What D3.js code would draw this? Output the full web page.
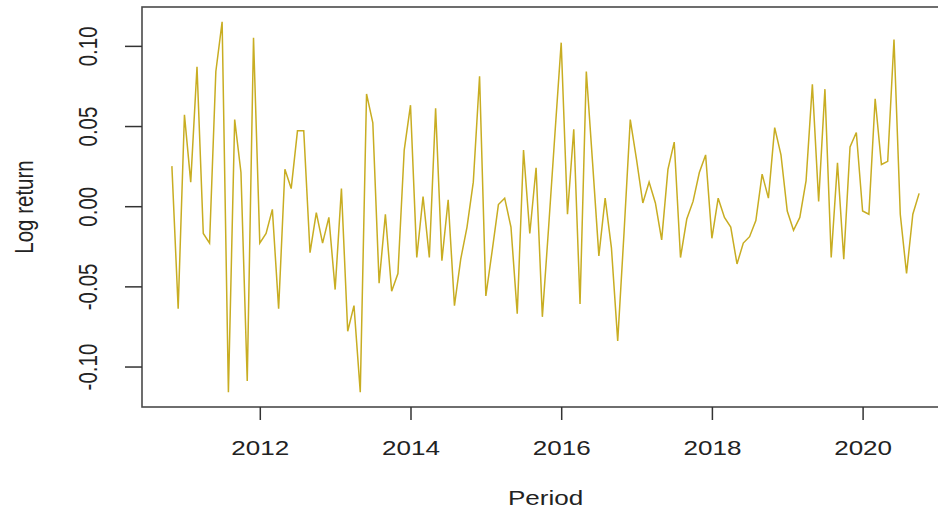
<!DOCTYPE html>
<html>
<head>
<meta charset="utf-8">
<script src="https://cdn.jsdelivr.net/npm/d3@7"></script>
<style>
  html, body { margin: 0; padding: 0; background: #fff; }
  svg { display: block; }
  text { font-family: "Liberation Sans", Arial, Helvetica, sans-serif; fill: #222; }
</style>
</head>
<body>
<svg id="chart" width="938" height="513"></svg>
<script>
// Monthly log returns, starting November 2010
const startYear = 2010;
const startMonth = 11;
const logReturns = [
  0.025, -0.064, 0.057, 0.015, 0.087, -0.017, -0.023, 0.084, 0.115, -0.116,
  0.054, 0.021, -0.109, 0.105, -0.023, -0.017, -0.002, -0.064, 0.023, 0.011,
  0.047, 0.047, -0.029, -0.004, -0.023, -0.007, -0.052, 0.011, -0.078, -0.062,
  -0.116, 0.070, 0.052, -0.048, -0.005, -0.053, -0.042, 0.035, 0.063, -0.032,
  0.006, -0.032, 0.061, -0.034, 0.004, -0.062, -0.033, -0.013, 0.015, 0.081,
  -0.056, -0.028, 0.001, 0.005, -0.013, -0.067, 0.035, -0.017, 0.024, -0.069,
  -0.013, 0.045, 0.102, -0.005, 0.048, -0.061, 0.084, 0.027, -0.031, 0.005,
  -0.026, -0.084, -0.017, 0.054, 0.029, 0.002, 0.015, 0.002, -0.021, 0.023,
  0.040, -0.032, -0.008, 0.003, 0.021, 0.032, -0.020, 0.005, -0.007, -0.013,
  -0.036, -0.023, -0.019, -0.009, 0.020, 0.005, 0.049, 0.032, -0.003, -0.015,
  -0.007, 0.016, 0.076, 0.003, 0.073, -0.032, 0.027, -0.033, 0.037, 0.046,
  -0.003, -0.005, 0.067, 0.026, 0.028, 0.104, -0.005, -0.042, -0.005, 0.008
];
const xTickValues = [2012, 2014, 2016, 2018, 2020];
const yTickValues = [-0.10, -0.05, 0.00, 0.05, 0.10];
const xTitle = "Period";
const yTitle = "Log return";

// Time in decimal years for each observation
const t0 = startYear + (startMonth - 1) / 12;
const series = logReturns.map((v, i) => ({ t: t0 + i / 12, v }));

// Plot region (base-graphics style: 4% padding on both axes)
const plot = { left: 142, right: 949, top: 7, bottom: 407 };
const tExt = d3.extent(series, d => d.t);
const vExt = d3.extent(series, d => d.v);
const tPad = (tExt[1] - tExt[0]) * 0.04;
const vPad = (vExt[1] - vExt[0]) * 0.04;

const x = d3.scaleLinear().domain([tExt[0] - tPad, tExt[1] + tPad]).range([plot.left, plot.right]);
const y = d3.scaleLinear().domain([vExt[0] - vPad, vExt[1] + vPad]).range([plot.bottom, plot.top]);

const svg = d3.select("#chart");
const fontSize = 20.5;
const stretch = 1.27;

// Series line
svg.append("path")
  .datum(series)
  .attr("fill", "none")
  .attr("stroke", "#C8AD22")
  .attr("stroke-width", 1.5)
  .attr("stroke-linejoin", "miter")
  .attr("d", d3.line().x(d => x(d.t)).y(d => y(d.v)));

// Frame
svg.append("rect")
  .attr("x", plot.left).attr("y", plot.top)
  .attr("width", plot.right - plot.left).attr("height", plot.bottom - plot.top)
  .attr("fill", "none").attr("stroke", "#4a4a4a").attr("stroke-width", 1.6);

// Bottom axis
const gx = svg.append("g").attr("transform", `translate(0,${plot.bottom})`)
  .call(d3.axisBottom(x).tickValues(xTickValues).tickFormat(d3.format("d")).tickSize(13).tickSizeOuter(0));
gx.select(".domain").remove();
gx.selectAll(".tick line").attr("stroke", "#333").attr("stroke-width", 1.5);
gx.selectAll(".tick text")
  .attr("y", 0).attr("dy", null)
  .attr("transform", `translate(0,48) scale(${stretch},1)`)
  .attr("font-size", fontSize)
  .attr("font-family", "Liberation Sans, Arial, sans-serif")
  .attr("fill", "#222")
  .attr("text-anchor", "middle");

// Left axis
const gy = svg.append("g").attr("transform", `translate(${plot.left},0)`)
  .call(d3.axisLeft(y).tickValues(yTickValues).tickFormat(d => d.toFixed(2)).tickSize(17).tickSizeOuter(0));
gy.select(".domain").remove();
gy.selectAll(".tick line").attr("stroke", "#333").attr("stroke-width", 1.5);
gy.selectAll(".tick text")
  .attr("x", 0).attr("dy", null)
  .attr("transform", `translate(-45,0) scale(${stretch},1) rotate(-90)`)
  .attr("font-size", fontSize)
  .attr("font-family", "Liberation Sans, Arial, sans-serif")
  .attr("fill", "#222")
  .attr("text-anchor", "middle");

// Axis titles
svg.append("text")
  .attr("transform", `translate(${(plot.left + plot.right) / 2},505) scale(${stretch},1)`)
  .attr("text-anchor", "middle")
  .attr("font-size", fontSize)
  .text(xTitle);

svg.append("text")
  .attr("transform", `translate(33,${(plot.top + plot.bottom) / 2}) scale(${stretch},1) rotate(-90)`)
  .attr("text-anchor", "middle")
  .attr("font-size", fontSize)
  .text(yTitle);
</script>
</body>
</html>
